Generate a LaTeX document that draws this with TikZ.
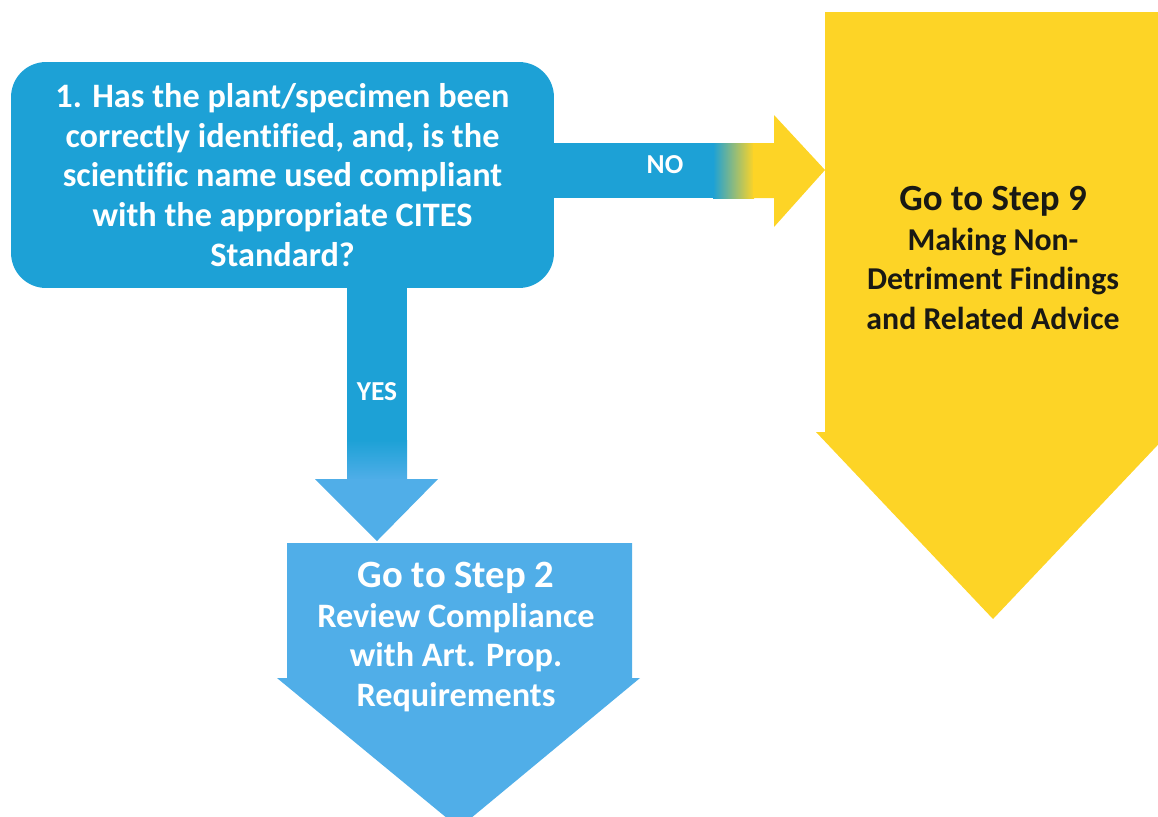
\documentclass[tikz,border=0pt]{standalone}
\usepackage{fontspec}
\setmainfont{Carlito}[Ligatures=NoCommon]
\usepackage{tikz}
\definecolor{QBlue}{RGB}{29,161,214}
\definecolor{StepBlue}{RGB}{80,174,232}
\definecolor{StepYellow}{RGB}{253,212,38}
\definecolor{DarkText}{RGB}{25,25,20}

\begin{document}
\begin{tikzpicture}[x=0.02cm, y=-0.02cm, font=\bfseries]
        \useasboundingbox (0,0) rectangle (1158,816);
        \clip (0,0) rectangle (1158,816);

        % Yellow arrow (Step 9) - runs off the right edge
        \fill[StepYellow] (825,12) -- (1161,12) -- (1161,432) -- (1170,432) -- (993,619) -- (816,432) -- (825,432) -- cycle;

        % NO arrow - blue shaft turning into a yellow head
        \fill[QBlue] (540,143) rectangle (714,198);
        \shade[left color=QBlue, right color=StepYellow] (713,143) rectangle (754,198);
        \fill[StepYellow] (753,143) -- (774,143) -- (774,115) -- (825,170) -- (774,227) -- (774,198) -- (753,198) -- cycle;

        % Question box
        \node[fill=QBlue, text=white, rounded corners=0.7cm, minimum width=10.86cm, minimum height=4.52cm,
              align=center, font=\fontsize{19.5}{22.7}\selectfont\bfseries] (question) at (282.5,175)
              {1. Has the plant/specimen been\\ correctly identified, and, is the\\ scientific name used compliant\\ with the appropriate CITES\\ Standard?};

        % YES arrow - shaft lightens into the head
        \fill[QBlue] (347,287) rectangle (407,441);
        \shade[top color=QBlue, bottom color=StepBlue] (347,440) rectangle (407,480);
        \fill[StepBlue] (315,479) -- (438,479) -- (377,541) -- cycle;

        % Step 2 arrow
        \fill[StepBlue] (287,543) -- (632,543) -- (632,678) -- (640,678) -- (459,828) -- (277,678) -- (287,678) -- cycle;

        % Labels on the arrows
        \node[text=white, font=\fontsize{15.6}{18}\selectfont\bfseries] (no) at (665,165) {NO};
        \node[text=white, font=\fontsize{15.6}{18}\selectfont\bfseries] (yes) at (377,392) {YES};

        \node[text=white, align=center, font=\fontsize{19.5}{22.7}\selectfont\bfseries] (steptwo) at (456,637)
              {{\fontsize{22}{22.7}\selectfont Go to Step 2}\\ Review Compliance\\ with Art. Prop.\\ Requirements};

        \node[text=DarkText, align=center, font=\fontsize{18.1}{22.7}\selectfont\bfseries] (stepnine) at (993,258)
              {{\fontsize{21}{22.7}\selectfont Go to Step 9}\\ Making Non-\\ Detriment Findings\\ and Related Advice};
    \end{tikzpicture}
\end{document}
